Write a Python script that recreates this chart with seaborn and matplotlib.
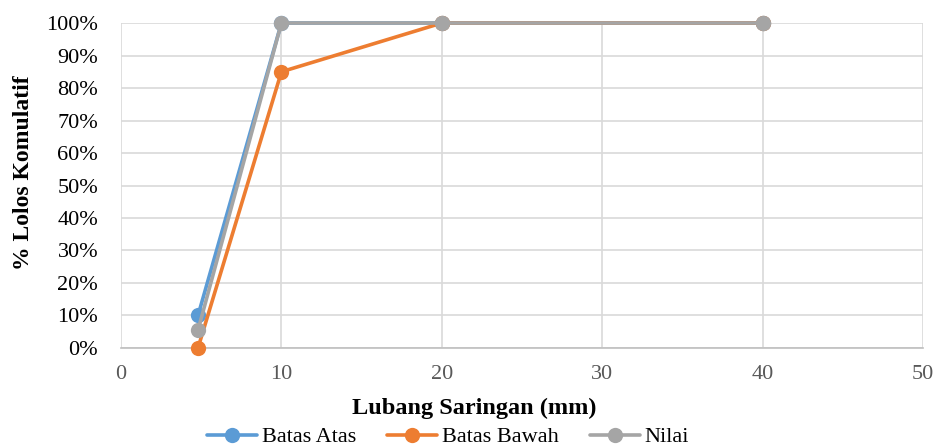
import matplotlib
matplotlib.use("Agg")
import matplotlib.pyplot as plt
import seaborn as sns
import pandas as pd
from matplotlib.ticker import PercentFormatter

# Sieve sizes (mm) and cumulative passing (%)
lubang = [4.8, 10, 20, 40]
batas_atas = [10, 100, 100, 100]
batas_bawah = [0, 85, 100, 100]
nilai = [5.5, 100, 100, 100]

series_names = ["Batas Atas", "Batas Bawah", "Nilai"]
series_values = [batas_atas, batas_bawah, nilai]
colors = ["#5B9BD5", "#ED7D31", "#A5A5A5"]

x_ticks = [0, 10, 20, 30, 40, 50]
y_ticks = list(range(0, 101, 10))

sns.set_theme(style="white")
plt.rcParams["font.family"] = ["Liberation Serif", "DejaVu Serif"]

fig = plt.figure(figsize=(9.41, 4.47), dpi=100)
ax = fig.add_axes([0.1286, 0.2215, 0.981 - 0.1286, 0.9485 - 0.2215])

for name, vals, col in zip(series_names, series_values, colors):
    df = pd.DataFrame({"x": lubang, "y": vals})
    sns.lineplot(data=df, x="x", y="y", ax=ax, color=col, linewidth=2.6,
                 marker="o", markersize=11, markeredgewidth=0, label=name,
                 clip_on=False, zorder=3)

ax.set_xlim(0, 50)
ax.set_ylim(0, 100)
ax.set_xticks(x_ticks)
ax.set_yticks(y_ticks)
ax.yaxis.set_major_formatter(PercentFormatter(decimals=0))
ax.grid(True, color="#D9D9D9", linewidth=1.2)
ax.set_axisbelow(True)
for s in ax.spines.values():
    s.set_visible(False)
ax.spines["bottom"].set_visible(True)
ax.spines["bottom"].set_color("#BFBFBF")
ax.spines["bottom"].set_linewidth(1.2)
ax.tick_params(axis="x", labelsize=16, labelcolor="#595959", pad=12, length=0)
ax.tick_params(axis="y", labelsize=16, labelcolor="#000000", pad=16.5, length=0)

ax.set_xlabel("Lubang Saringan (mm)", fontsize=17.5, fontweight="bold",
              va="center", color="black")
ax.xaxis.set_label_coords(0.44, (348 - 408) / 325)
ax.set_ylabel("% Lolos Komulatif", fontsize=17, fontweight="bold",
              va="center", color="black")
ax.yaxis.set_label_coords(-0.122, 0.54)

leg = ax.legend(loc="center", bbox_to_anchor=(448 / 941, 1 - 437 / 447),
                bbox_transform=fig.transFigure, ncol=3, frameon=False,
                fontsize=16, handlelength=2.25, handletextpad=0.2,
                columnspacing=1.4, borderaxespad=0, borderpad=0)
for t in leg.get_texts():
    t.set_color("black")

fig.savefig("out.png", dpi=100)
